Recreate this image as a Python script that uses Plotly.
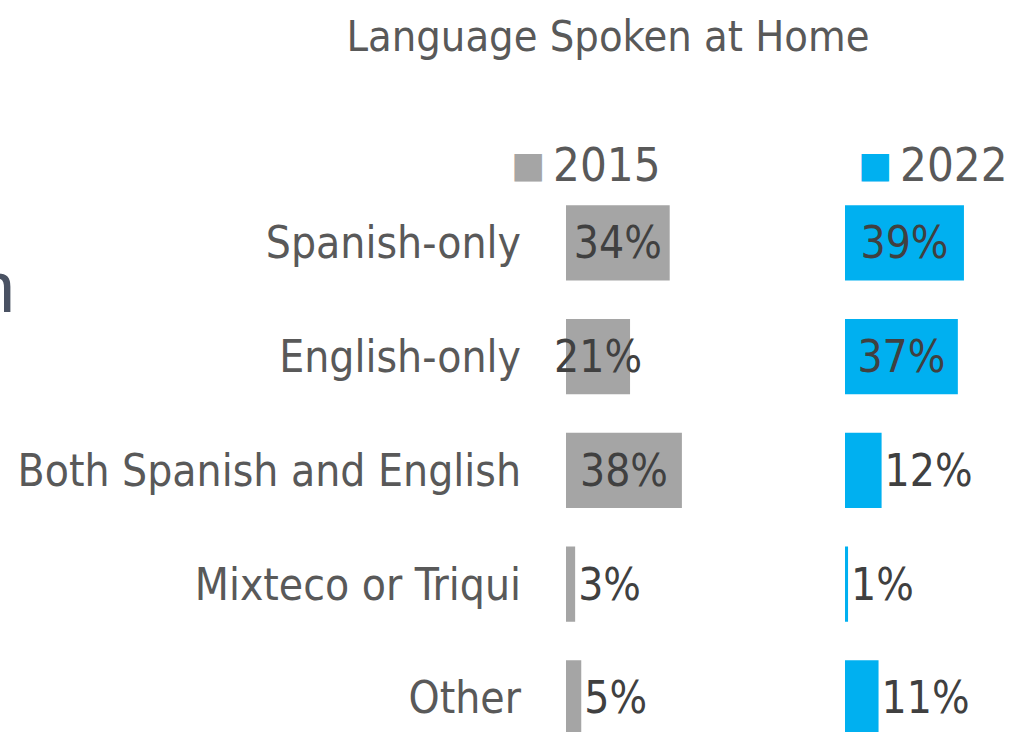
import plotly.graph_objects as go

# ---- data ----
categories = ["Spanish-only", "English-only", "Both Spanish and English", "Mixteco or Triqui", "Other"]
years = ["2015", "2022"]
values_2015 = [34, 21, 38, 3, 5]
values_2022 = [39, 37, 12, 1, 11]
label_pos_2015 = ["inside", "inside", "inside", "outside", "outside"]
label_pos_2022 = ["inside", "inside", "outside", "outside", "outside"]

FONT = "DejaVu Sans Condensed, Liberation Sans Narrow, sans-serif"
GRAY = "#a5a5a5"
BLUE = "#00b0f0"
TXT = "#595959"
VAL = "#404040"
W, H = 1009, 732
TOP = 186
PLOT_H = H - TOP

fig = go.Figure()
for vals, pos, color, xa, ya, yr in [
    (values_2015, label_pos_2015, GRAY, "x", "y", years[0]),
    (values_2022, label_pos_2022, BLUE, "x2", "y2", years[1]),
]:
    fig.add_trace(go.Bar(
        x=vals, y=categories, orientation="h", name=yr,
        marker=dict(color=color, line=dict(width=0)),
        text=[f"{v}%" for v in vals], textposition=pos, textangle=0,
        textfont=dict(family=FONT, size=44, color=VAL),
        insidetextanchor="middle", constraintext="none", cliponaxis=False,
        xaxis=xa, yaxis=ya, showlegend=False, hoverinfo="x+y",
    ))

yrange = [4.3, -0.5]
fig.update_layout(
    width=W, height=H,
    margin=dict(l=0, r=0, t=TOP, b=0, autoexpand=False),
    paper_bgcolor="white", plot_bgcolor="white",
    bargap=0.34,
    uniformtext=dict(mode="show", minsize=44),
    font=dict(family=FONT, color=TXT),
    title=dict(text="Language Spoken at Home", x=608 / W, xanchor="center",
               y=1 - 36 / H, yanchor="middle", automargin=False,
               font=dict(family=FONT, size=43, color=TXT)),
    xaxis=dict(domain=[566 / W, (566 + 45 * 3.05) / W], range=[0, 45], visible=False,
               automargin=False),
    xaxis2=dict(domain=[845 / W, (845 + 45 * 3.05) / W], range=[0, 45], visible=False,
                automargin=False),
    yaxis=dict(anchor="x", categoryorder="array", categoryarray=categories, range=yrange,
               showgrid=False, zeroline=False, showline=False, ticks="", automargin=False,
               ticklabelstandoff=44,
               tickfont=dict(family=FONT, size=44, color=TXT)),
    yaxis2=dict(anchor="x2", categoryorder="array", categoryarray=categories, range=yrange,
                showgrid=False, zeroline=False, showline=False, showticklabels=False,
                automargin=False),
)

# legend drawn as annotations (large square markers)
leg_y = 1 + (TOP - 165) / PLOT_H
for yr, color, sq_x, tx_x in [(years[0], GRAY, 509, 551), (years[1], BLUE, 856, 898)]:
    fig.add_annotation(
        x=sq_x / W, y=leg_y, xref="paper", yref="paper",
        xanchor="left", yanchor="middle", showarrow=False,
        text="■", font=dict(family="DejaVu Sans", size=36, color=color),
    )
    fig.add_annotation(
        x=tx_x / W, y=leg_y, xref="paper", yref="paper",
        xanchor="left", yanchor="middle", showarrow=False,
        text=yr, font=dict(family=FONT, size=47, color=TXT),
    )

# clipped text fragment at left edge (present in the reference)
fig.add_annotation(
    x=17 / W, y=1 + (TOP - 287) / PLOT_H, xref="paper", yref="paper",
    xanchor="right", yanchor="middle", showarrow=False,
    text="n", font=dict(family="Liberation Sans, sans-serif", size=72, color="#4a5263"),
)

fig.write_html("out.html", config={"displayModeBar": False},
               post_script="document.body.style.margin='0';")
